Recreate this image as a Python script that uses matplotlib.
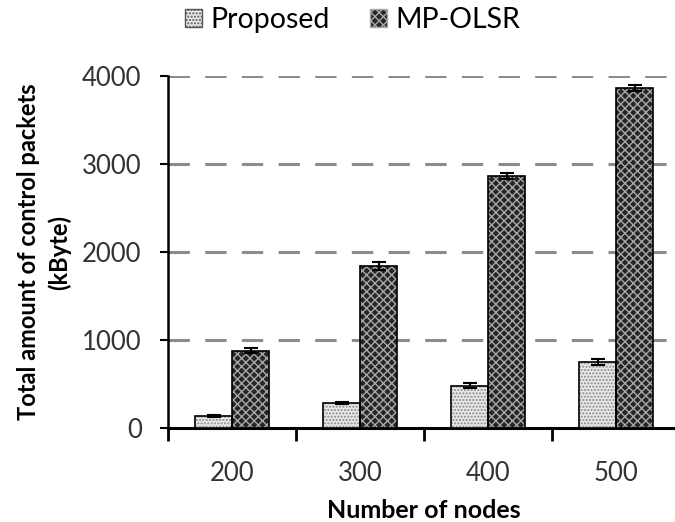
import matplotlib.pyplot as plt
import numpy as np
from matplotlib.patches import Patch

plt.rcParams['font.family'] = ['Lato', 'DejaVu Sans']

nodes = ['200', '300', '400', '500']
proposed = [140, 285, 480, 750]
proposed_err = [12, 15, 30, 35]
mp_olsr = [880, 1840, 2865, 3865]
mp_olsr_err = [30, 45, 30, 35]

fig = plt.figure(figsize=(6.75, 5.22), dpi=100)
ax = fig.add_axes([0.249, 0.180, 0.7585, 0.674])

x = np.arange(len(nodes))
w = 0.29

# fills with hatch, then black outlines on top
ax.bar(x - w / 2, proposed, w, color='#e8e8e8', edgecolor='#8a8a8a',
       hatch='.....', linewidth=0, zorder=3)
ax.bar(x + w / 2, mp_olsr, w, color='#262626', edgecolor='#a8a8a8',
       hatch='xxxx', linewidth=0, zorder=3)
ax.bar(x - w / 2, proposed, w, fill=False, edgecolor='black', linewidth=1.2,
       zorder=4)
ax.bar(x + w / 2, mp_olsr, w, fill=False, edgecolor='black', linewidth=1.2,
       zorder=4)
ax.errorbar(x - w / 2, proposed, yerr=proposed_err, fmt='none', ecolor='black',
            elinewidth=1.5, capsize=5, capthick=1.5, zorder=5)
ax.errorbar(x + w / 2, mp_olsr, yerr=mp_olsr_err, fmt='none', ecolor='black',
            elinewidth=1.5, capsize=5, capthick=1.5, zorder=5)

ax.set_xlim(-0.5, 3.5)
ax.set_ylim(0, 4000)
ax.set_yticks([0, 1000, 2000, 3000, 4000])
ax.set_xticks(x)
ax.set_xticklabels(nodes)
ax.set_xticks(np.arange(-0.5, 4.0, 1.0), minor=True)
ax.tick_params(axis='x', which='major', length=0, pad=24, labelsize=18.5,
               labelcolor='#333333')
ax.tick_params(axis='x', which='minor', length=9, width=2, direction='out')
ax.tick_params(axis='y', length=6, width=1.5, pad=13, labelsize=18.5,
               labelcolor='#333333')

for y in [1000, 2000, 3000, 4000]:
    ax.axhline(y, color='#8c8c8c', linewidth=2.2, dashes=(7, 5), zorder=1)

for s in ['top', 'right']:
    ax.spines[s].set_visible(False)
ax.spines['left'].set_linewidth(1.8)
ax.spines['bottom'].set_linewidth(2.2)

ax.set_xlabel('Number of nodes', fontsize=18, fontweight='bold', labelpad=9)
ax.set_ylabel('Total amount of control packets\n(kByte)', fontsize=17,
              fontweight='bold', labelpad=8, linespacing=1.4)

leg_handles = [Patch(facecolor='#e8e8e8', edgecolor='#555555', hatch='.....'),
               Patch(facecolor='#262626', edgecolor='#a8a8a8', hatch='xxxx')]
fig.legend(leg_handles, ['Proposed', 'MP-OLSR'], loc='center',
           bbox_to_anchor=(0.522, 0.962), ncol=2, frameon=False, fontsize=20.5,
           handlelength=0.6, handleheight=0.6, handletextpad=0.3,
           columnspacing=1.4)

fig.savefig('out.png', dpi=100)
